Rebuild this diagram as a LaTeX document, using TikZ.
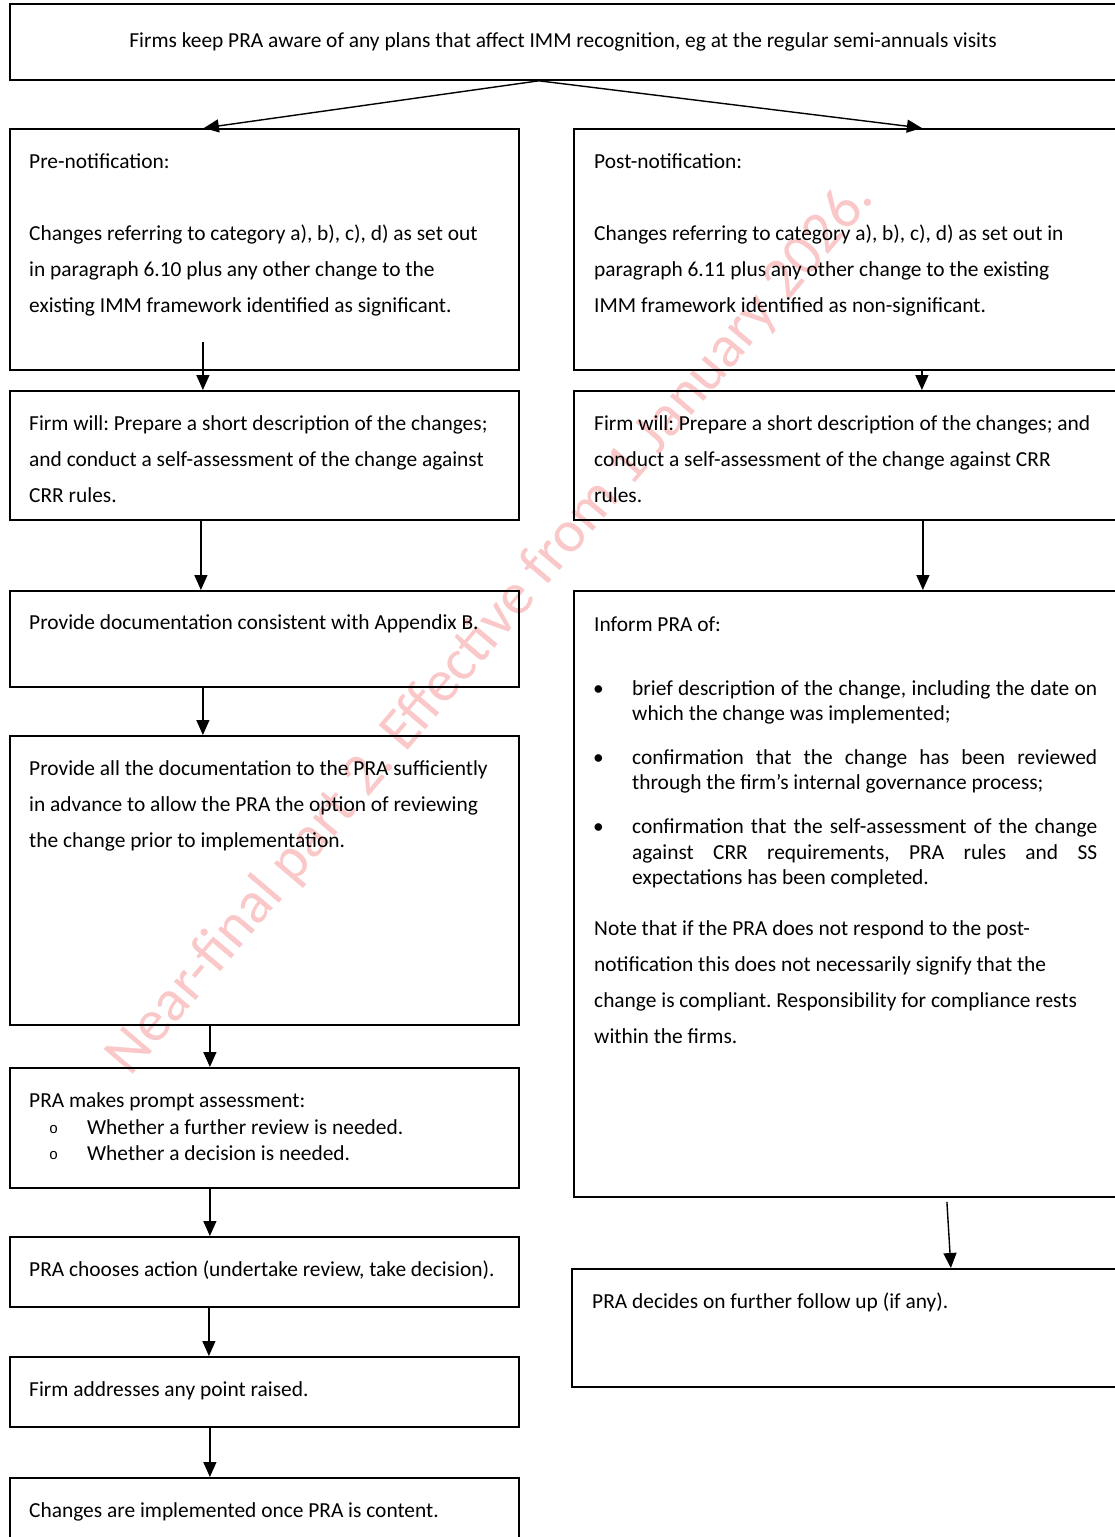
\documentclass[tikz,border=0pt]{standalone}
\usepackage{fontspec}
\setmainfont{Carlito}
\newfontfamily\bulletmono{Liberation Mono}
\usetikzlibrary{arrows.meta,calc}
\definecolor{wmred}{RGB}{250,200,200}
\newcommand{\mainsz}{\fontsize{21.4}{36}\selectfont}
\newcommand{\bulsz}{\fontsize{21.4}{25.5}\selectfont}
\frenchspacing
\begin{document}
\begin{tikzpicture}[x=1pt,y=-1pt,
  box/.style={draw, line width=1.8pt, inner sep=0pt, anchor=north west},
  txt/.style={anchor=base west, inner sep=0pt, font=\mainsz},
  arr/.style={line width=1.4pt, -{Triangle[length=15pt,width=13pt]}},
  wm/.style={inner sep=0pt, text=wmred, font=\fontsize{59.5}{59.5}\selectfont}
  ]
\useasboundingbox (0,0) rectangle (1115,1537);
\clip (0,0) rectangle (1115,1537);
\fill[white] (0,0) rectangle (1115,1537);

% watermark
\node[wm, rotate=49.7] (wmark) at (491,628) {Near-final part 2. Effective from 1 January 2026.};

% boxes
\node[box, minimum width=1116, minimum height=76] (T) at (9,3) {};
\node[box, minimum width=509, minimum height=241] (L1) at (9,128) {};
\node[box, minimum width=509, minimum height=129] (L2) at (9,390) {};
\node[box, minimum width=509, minimum height=96]  (L3) at (9,590) {};
\node[box, minimum width=509, minimum height=289] (L4) at (9,735) {};
\node[box, minimum width=509, minimum height=120] (L5) at (9,1067) {};
\node[box, minimum width=509, minimum height=70]  (L6) at (9,1236) {};
\node[box, minimum width=509, minimum height=70]  (L7) at (9,1356) {};
\node[box, minimum width=509, minimum height=90]  (L8) at (9,1477) {};
\node[box, minimum width=552, minimum height=241] (R1) at (573,128) {};
\node[box, minimum width=552, minimum height=129] (R2) at (573,390) {};
\node[box, minimum width=552, minimum height=606] (R3) at (573,590) {};
\node[box, minimum width=554, minimum height=118] (R4) at (571,1268) {};

% texts
\node[txt, anchor=base] (tT) at (563,47) {Firms keep PRA aware of any plans that affect IMM recognition, eg at the regular semi-annuals visits};

\node[txt] (tL1a) at (29,168) {Pre-notification:};
\node[txt] (tL1b) at (29,240) {\parbox[t]{490pt}{\mainsz Changes referring to category a), b), c), d) as set out\\in paragraph 6.10 plus any other change to the\\existing IMM framework identified as significant.}};
\node[txt] (tL2) at (29,430) {\parbox[t]{490pt}{\mainsz Firm will: Prepare a short description of the changes;\\and conduct a self-assessment of the change against\\CRR rules.}};
\node[txt] (tL3) at (29,629) {Provide documentation consistent with Appendix B.};
\node[txt] (tL4) at (29,775) {\parbox[t]{490pt}{\mainsz Provide all the documentation to the PRA sufficiently\\in advance to allow the PRA the option of reviewing\\the change prior to implementation.}};
\node[txt] (tL5) at (29,1107) {PRA makes prompt assessment:};
\node[txt] (tL5o1) at (49,1133) {{\bulletmono\fontsize{15}{15}\selectfont o}};
\node[txt] (tL5o2) at (49,1159) {{\bulletmono\fontsize{15}{15}\selectfont o}};
\node[txt] (tL5a) at (87,1134) {Whether a further review is needed.};
\node[txt] (tL5b) at (87,1160) {Whether a decision is needed.};
\node[txt] (tL6) at (29,1276) {PRA chooses action (undertake review, take decision).};
\node[txt] (tL7) at (29,1396) {Firm addresses any point raised.};
\node[txt] (tL8) at (29,1517) {Changes are implemented once PRA is content.};

\node[txt] (tR1a) at (594,168) {Post-notification:};
\node[txt] (tR1b) at (594,240) {\parbox[t]{515pt}{\mainsz Changes referring to category a), b), c), d) as set out in\\paragraph 6.11 plus any other change to the existing\\IMM framework identified as non-significant.}};
\node[txt] (tR2) at (594,430) {\parbox[t]{515pt}{\mainsz Firm will: Prepare a short description of the changes; and\\conduct a self-assessment of the change against CRR\\rules.}};
\node[txt] (tR3) at (594,631) {Inform PRA of:};
\node[txt] (tR3d1) at (593,695) {\textbullet};
\node[txt] (tR3d2) at (593,764) {\textbullet};
\node[txt] (tR3d3) at (593,833.5) {\textbullet};
\node[txt] (tR3b1) at (632,695) {\parbox[t]{465pt}{\bulsz\makebox[465pt][s]{brief description of the change, including the date on}\\which the change was implemented;}};
\node[txt] (tR3b2) at (632,764) {\parbox[t]{465pt}{\bulsz\makebox[465pt][s]{confirmation that the change has been reviewed}\\through the firm’s internal governance process;}};
\node[txt] (tR3b3) at (632,833.5) {\parbox[t]{465pt}{\bulsz\makebox[465pt][s]{confirmation that the self-assessment of the change}\\\makebox[465pt][s]{against CRR requirements, PRA rules and SS}\\expectations has been completed.}};
\node[txt] (tR3n) at (594,935) {\parbox[t]{515pt}{\mainsz Note that if the PRA does not respond to the post-\\notification this does not necessarily signify that the\\change is compliant. Responsibility for compliance rests\\within the firms.}};
\node[txt] (tR4) at (592,1308) {PRA decides on further follow up (if any).};

% connectors
\draw[arr] ([xshift=-29pt]T.south) -- ([xshift=-60.5pt]L1.north);
\draw[arr] ([xshift=-29pt]T.south) -- ([xshift=72pt]R1.north);
\draw[arr] ([xshift=-61.5pt,yshift=29pt]L1.south) -- ([xshift=-61.5pt]L2.north);
\draw[arr] ([xshift=-63.5pt]L2.south) -- ([xshift=-63.5pt]L3.north);
\draw[arr] ([xshift=-61.5pt]L3.south) -- ([xshift=-61.5pt]L4.north);
\draw[arr] ([xshift=-54.5pt,yshift=2pt]L4.south) -- ([xshift=-54.5pt]L5.north);
\draw[arr] ([xshift=-54.5pt]L5.south) -- ([xshift=-54.5pt]L6.north);
\draw[arr] ([xshift=-55.5pt]L6.south) -- ([xshift=-55.5pt]L7.north);
\draw[arr] ([xshift=-54.5pt]L7.south) -- ([xshift=-54.5pt]L8.north);
\draw[arr] ([xshift=72pt]R1.south) -- ([xshift=72pt]R2.north);
\draw[arr] ([xshift=73pt]R2.south) -- ([xshift=73pt]R3.north);
\draw[arr] ([xshift=97pt,yshift=-4pt]R3.south) -- ([xshift=102pt]R4.north);
\end{tikzpicture}
\end{document}
